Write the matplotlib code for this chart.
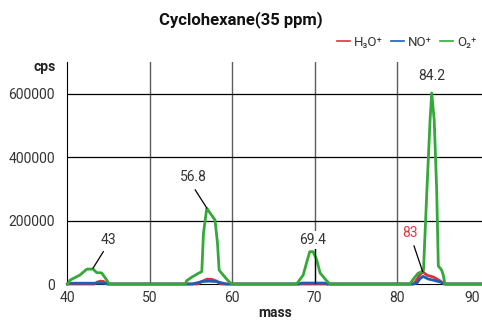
import matplotlib
matplotlib.use("Agg")
import matplotlib.pyplot as plt

plt.rcParams['font.family'] = ['Roboto', 'DejaVu Sans']

# ---- data ----
o2_mass = [40.0, 40.1, 40.3, 41.1, 41.5, 42.35, 43.1, 43.55, 44.15, 44.75, 45.05,
           54.3, 54.45, 55.05, 55.9, 56.3, 56.5, 56.9, 57.9, 58.2, 58.4, 58.9, 59.5, 59.95,
           67.8, 68.6, 69.0, 69.4, 69.8, 70.25, 70.65, 71.45, 71.85,
           81.55, 81.95, 82.55, 83.0, 83.2, 83.6, 84.0, 84.2, 84.5, 84.8, 85.0, 85.4, 85.6, 85.8, 90.3]
o2_cps = [0, 2000, 12000, 23000, 28000, 47000, 47000, 36000, 35000, 13000, 0,
          0, 10000, 21000, 34000, 39000, 160000, 239000, 202000, 130000, 44000, 28000, 10000, 0,
          0, 28000, 66000, 102000, 102000, 76000, 35000, 10000, 0,
          0, 15000, 34000, 39000, 44000, 288000, 518000, 603000, 518000, 297000, 57000, 44000, 28000, 0, 0]

h3o_mass = [40.0, 43.3, 43.6, 44.0, 44.4, 44.7, 55.8, 56.3, 56.9, 57.5, 58.1, 58.6,
            81.9, 82.15, 82.75, 83.1, 83.6, 84.4, 85.0, 85.6, 85.9, 90.3]
h3o_cps = [0, 0, 6000, 9000, 8000, 0, 0, 8000, 15000, 15000, 9000, 0,
           0, 5000, 28000, 39000, 28000, 22000, 13000, 3000, 0, 0]

no_mass = [40.0, 40.1, 44.6, 45.0, 55.1, 55.6, 56.4, 57.2, 58.0, 58.8, 59.2,
           68.1, 68.4, 71.2, 71.5, 82.0, 82.4, 82.75, 83.15, 83.75, 84.4, 85.3, 85.7, 90.3]
no_cps = [0, 2500, 2500, 0, 0, 3000, 8000, 9000, 8000, 3000, 0,
          0, 3000, 3000, 0, 0, 3000, 16000, 24000, 16000, 12000, 6000, 0, 0]

annotations = [("43", 44.95, 139000, 44.35, 102000, 43.1, 50000, "#333333"),
               ("56.8", 55.25, 338000, 55.5, 297000, 56.9, 240000, "#333333"),
               ("83", 81.55, 161000, 82.05, 120000, 83.1, 39000, "#e03c46")]

red, blue, green = "#e03040", "#1f5fb0", "#35a83a"

fig = plt.figure(figsize=(4.82, 3.2), dpi=100)
ax = fig.add_axes([0.14, 0.1125, 0.86, 0.694])

ax.set_xlim(40, 90.3)
ax.set_ylim(0, 701000)

# grid
for x in [50, 60, 70, 80]:
    ax.axvline(x, color="#5e5e5e", lw=1.0, zorder=1)
for y in [200000, 400000, 600000]:
    ax.axhline(y, color="black", lw=0.9, zorder=1)

ax.plot(h3o_mass, h3o_cps, color=red, lw=2.0, zorder=3, clip_on=False)
ax.plot(no_mass, no_cps, color=blue, lw=2.0, zorder=3, clip_on=False)
ax.plot(o2_mass, o2_cps, color=green, lw=2.0, zorder=4, clip_on=False)

# peak labels
for txt, tx, ty, x1, y1, x2, y2, c in annotations:
    ax.text(tx, ty, txt, color=c, fontsize=10, ha="center", va="center", zorder=6)
    ax.plot([x1, x2], [y1, y2], color="black", lw=0.9, zorder=5)

ax.plot([70, 70], [0, 122000], color="black", lw=0.9, zorder=5)
ax.text(69.8, 139000, "69.4", color="#333333", fontsize=10, ha="center", va="center",
        zorder=6, bbox=dict(facecolor="white", edgecolor="none", pad=1.5))
ax.text(84.25, 657000, "84.2", color="#333333", fontsize=10, ha="center", va="center", zorder=6)

# axes styling
for s in ["top", "right"]:
    ax.spines[s].set_visible(False)
ax.spines["left"].set_color("black")
ax.spines["bottom"].set_color("black")
ax.spines["left"].set_zorder(2)
ax.spines["bottom"].set_zorder(2)

ax.set_xticks([40, 50, 60, 70, 80, 90])
ax.set_yticks([0, 200000, 400000, 600000])
ax.tick_params(length=0, labelsize=10, labelcolor="#333333", pad=5)
ax.tick_params(axis="y", pad=9)
ax.get_xticklabels()[-1].set_horizontalalignment("right")

fig.text(45 / 482, 1 - 67 / 320, "cps", ha="center", va="center", fontsize=10, fontweight="bold", color="#222222")
fig.text(275 / 482, 1 - 313 / 320, "mass", ha="center", va="center", fontsize=10, fontweight="bold", color="#222222")
fig.text(0.5, 1 - 20 / 320, "Cyclohexane(35 ppm)", ha="center", va="center", fontsize=12, fontweight="bold", color="#111111")

handles = [plt.Line2D([], [], color=c, lw=1.2) for c in [red, blue, green]]
fig.legend(handles, ["H\u2083O\u207a", "NO\u207a", "O\u2082\u207a"], loc="center right",
           bbox_to_anchor=(1.0, 1 - 42 / 320), ncol=3, frameon=False, fontsize=9.5,
           handlelength=1.0, handletextpad=0.3, columnspacing=0.6, borderaxespad=0,
           labelcolor="#333333")

fig.savefig("out.png", dpi=100)
